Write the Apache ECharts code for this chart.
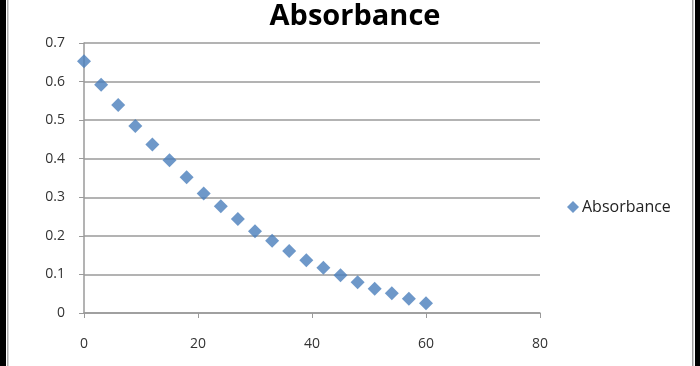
<!DOCTYPE html>
<html>
<head>
<meta charset="utf-8">
<script src="https://cdn.jsdelivr.net/npm/echarts@6/dist/echarts.min.js"></script>
<style>html,body{margin:0;padding:0;background:#fff;}#c{width:700px;height:366px;}</style>
</head>
<body>
<div id="c"></div>
<script>
var seriesName = 'Absorbance';
var times = [0, 3, 6, 9, 12, 15, 18, 21, 24, 27, 30, 33, 36, 39, 42, 45, 48, 51, 54, 57, 60];
var absorbance = [0.653, 0.592, 0.539, 0.485, 0.437, 0.396, 0.352, 0.310, 0.277, 0.244, 0.212, 0.187, 0.161, 0.137, 0.117, 0.098, 0.080, 0.063, 0.051, 0.037, 0.025];

var chart = echarts.init(document.getElementById('c'));
var data = times.map(function (t, i) { return [t, absorbance[i]]; });
var font = '"Open Sans", sans-serif';
chart.setOption({
  animation: false,
  backgroundColor: '#fff',
  title: {
    text: 'Absorbance', left: 350, textAlign: 'center', top: -3,
    textStyle: { fontFamily: font, fontWeight: 'bold', fontSize: 29, color: '#000' }
  },
  legend: {
    data: [{ name: seriesName, icon: 'diamond' }],
    left: 562, top: 194, itemWidth: 12, itemHeight: 12, itemGap: 3,
    textStyle: { fontFamily: font, fontSize: 16, color: '#222', padding: [0, 0, 0, -2] }
  },
  grid: { left: 84, right: 160, top: 43, bottom: 53 },
  xAxis: {
    type: 'value', min: 0, max: 80, interval: 20,
    axisLine: { show: true, onZero: false, lineStyle: { color: '#9a9a9a', width: 1.5 } },
    axisTick: { show: true, length: 5, lineStyle: { color: '#9a9a9a', width: 1 } },
    axisLabel: { fontFamily: font, fontSize: 14, color: '#333', margin: 24 },
    splitLine: { show: false }
  },
  yAxis: {
    type: 'value', min: 0, max: 0.7, interval: 0.1,
    axisLine: { show: true, lineStyle: { color: '#9a9a9a', width: 1.5 } },
    axisTick: { show: true, length: 5, lineStyle: { color: '#9a9a9a', width: 1 } },
    axisLabel: { fontFamily: font, fontSize: 14, color: '#333', margin: 19 },
    splitLine: { show: true, lineStyle: { color: '#9a9a9a', width: 1.5 } }
  },
  series: [{
    name: seriesName, type: 'scatter', symbol: 'diamond', symbolSize: 14,
    itemStyle: { color: '#4a7ebb' },
    data: data
  }],
  graphic: [
    { type: 'rect', shape: { x: 0, y: 0, width: 6, height: 366 }, style: { fill: '#000' } },
    { type: 'rect', shape: { x: 7, y: 0, width: 1.5, height: 366 }, style: { fill: '#b0b0b0' } },
    { type: 'rect', shape: { x: 692, y: 0, width: 1.5, height: 366 }, style: { fill: '#a0a0a0' } },
    { type: 'rect', shape: { x: 695, y: 0, width: 5, height: 366 }, style: { fill: '#000' } }
  ]
});
</script>
</body>
</html>
